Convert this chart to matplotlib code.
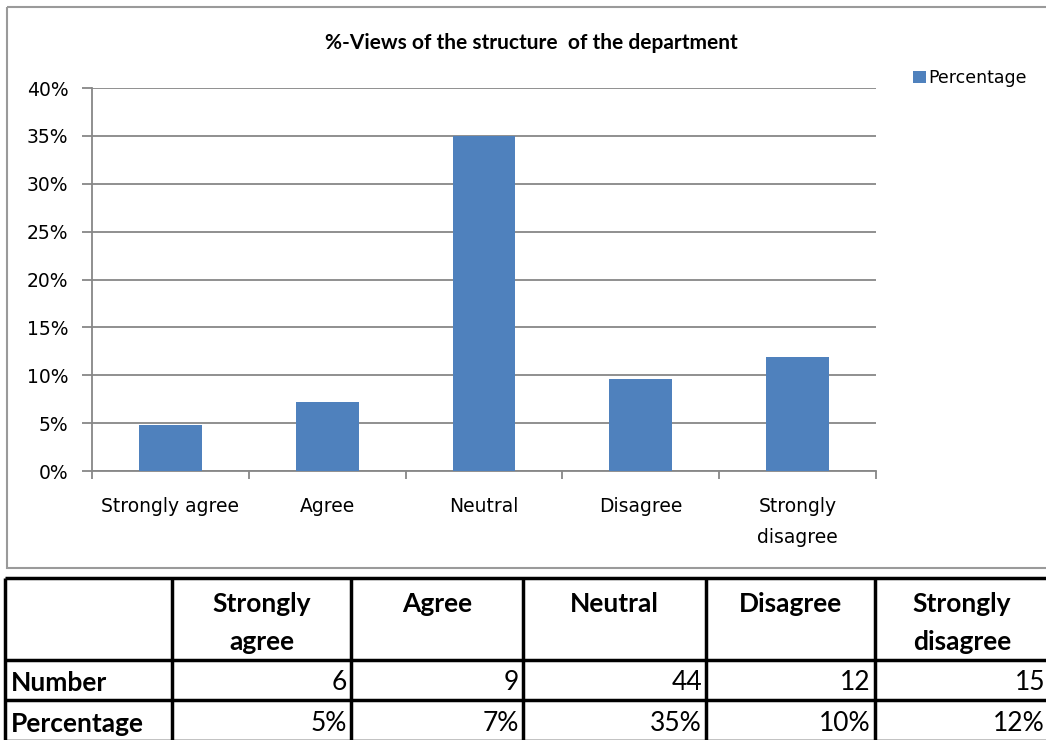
import matplotlib
matplotlib.use("Agg")
import matplotlib.pyplot as plt
from matplotlib.patches import Rectangle
import numpy as np

categories = ["Strongly agree", "Agree", "Neutral", "Disagree", "Strongly\ndisagree"]
header_labels = ["Strongly\nagree", "Agree", "Neutral", "Disagree", "Strongly\ndisagree"]
numbers = [6, 9, 44, 12, 15]
percent = [4.8, 7.2, 35.0, 9.6, 11.9]
pct_labels = ["5%", "7%", "35%", "10%", "12%"]
yticks = [0, 5, 10, 15, 20, 25, 30, 35, 40]

W, H = 1046, 740
BLUE = "#4F81BD"
GRID = "#878787"
calib = ["Lato", "DejaVu Sans"]

fig = plt.figure(figsize=(W / 100, H / 100), dpi=100)

# full-figure overlay in pixel units for frame and table
bg = fig.add_axes([0, 0, 1, 1])
bg.set_xlim(0, W)
bg.set_ylim(H, 0)
bg.axis("off")
bg.add_patch(Rectangle((7, 7), W + 10, 561, fill=False, edgecolor="#9a9a9a", lw=1.5))

# chart
ax = fig.add_axes([92 / W, 1 - 471 / H, 784 / W, 383 / H])
x = np.arange(len(categories))
ax.bar(x, percent, width=0.4, color=BLUE, zorder=3, label="Percentage")
ax.set_xlim(-0.5, len(categories) - 0.5)
ax.set_ylim(0, 40)
ax.set_yticks(yticks)
ax.set_yticklabels([f"{t}%" for t in yticks], fontsize=13.5)
ax.yaxis.grid(True, color=GRID, lw=1.3, zorder=0)
ax.set_xticks(x)
ax.set_xticklabels(categories, fontsize=13.5, linespacing=1.75)
ax.tick_params(axis="x", length=0, pad=19)
ax.set_xticks(np.arange(len(categories) + 1) - 0.5, minor=True)
ax.tick_params(axis="x", which="minor", length=6, color=GRID, width=1.3)
ax.tick_params(axis="y", length=7, color=GRID, width=1.3, pad=10)
for s in ["top", "right"]:
    ax.spines[s].set_visible(False)
for s in ["left", "bottom"]:
    ax.spines[s].set_color(GRID)
    ax.spines[s].set_linewidth(1.3)
ax.set_title("%-Views of the structure  of the department", fontsize=15,
             fontweight="bold", family=calib, pad=28, x=0.56)
ax.legend(loc="upper left", bbox_to_anchor=(1.027, 1.09), frameon=False,
          fontsize=12.5, handlelength=0.75, handleheight=0.75, handletextpad=0.15)

# table
cols = [5, 172, 351, 523, 706, 875, 1049]
rows = [578, 660, 700, 741]
for yy in rows:
    bg.plot([cols[0], cols[-1] + 10], [yy, yy], color="black", lw=2.5, solid_capstyle="butt")
for xx in cols:
    bg.plot([xx, xx], [rows[0], rows[-1]], color="black", lw=2.5, solid_capstyle="butt")

tfont = dict(fontsize=19, fontweight="bold", family=calib)
for i, lab in enumerate(header_labels):
    cx = (cols[i + 1] + cols[i + 2]) / 2
    bg.text(cx, 592, lab, ha="center", va="top", linespacing=1.68, **tfont)
row_names = ["Number", "Percentage"]
row_vals = [[str(n) for n in numbers], pct_labels]
for r, (name, vals) in enumerate(zip(row_names, row_vals)):
    cy = (rows[r + 1] + rows[r + 2]) / 2 + 3
    bg.text(cols[0] + 6, cy, name, ha="left", va="center", **tfont)
    for i, v in enumerate(vals):
        bg.text(cols[i + 2] - 4, cy, v, ha="right", va="center",
                fontsize=19, family=calib)

fig.savefig("out.png", dpi=100)
